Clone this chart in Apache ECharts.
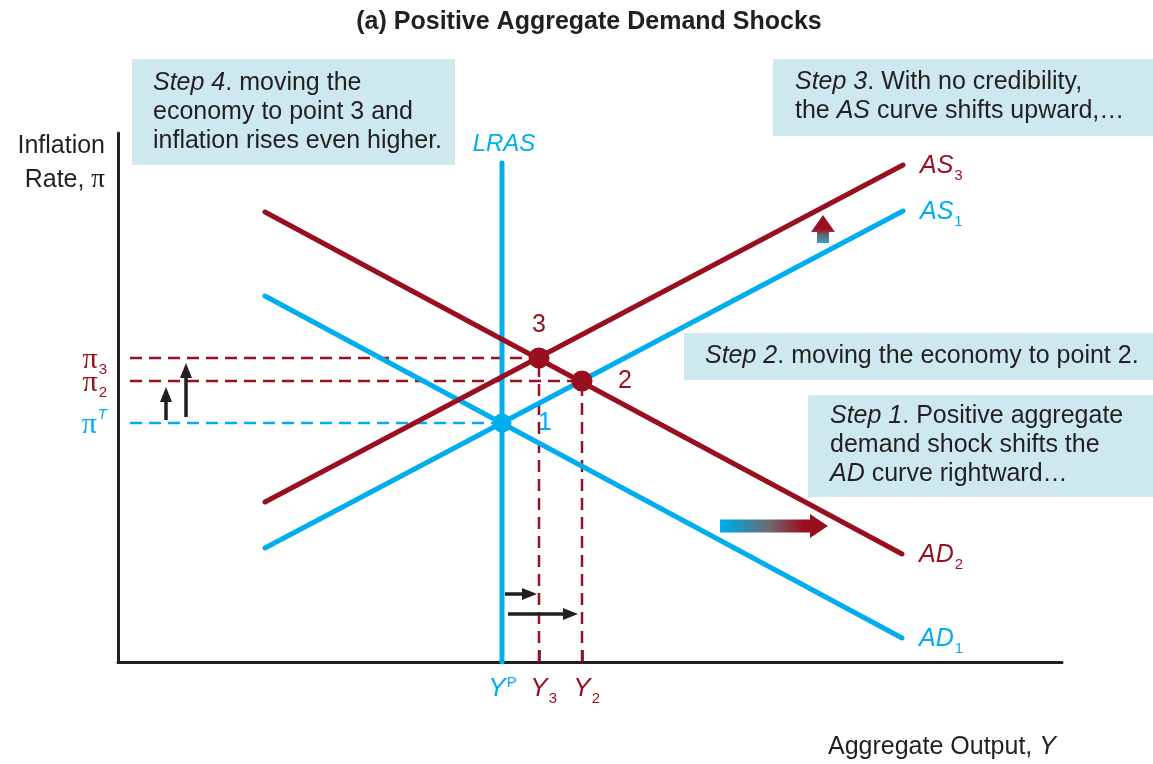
<!doctype html>
<html lang="en">
<head>
<meta charset="UTF-8">
<title>Positive Aggregate Demand Shocks</title>
<script src="https://cdn.jsdelivr.net/npm/echarts@6/dist/echarts.min.js"></script>
<style>
    html, body { margin: 0; padding: 0; background: #fff; }
    #main { width: 1153px; height: 764px; }
</style>
</head>
<body>
<div id="main"></div>
<script>
// axis units: output 0..944, inflation 0..529
var outputMax = 944;
var inflationMax = 529;

// curves: [start, end]
var ad1 = [[147, 366], [784, 24]];
var ad2 = [[147, 450], [784, 108]];
var as1 = [[147, 114], [785, 451]];
var as3 = [[147, 160], [785, 497]];
var lras = [[384, 0], [384, 499]];

// equilibrium points [output, inflation]
var point1 = [384, 239];
var point2 = [464, 281];
var point3 = [421, 304];

var guideStart = 12;          // dashed guides start here on the output scale
var outputTicks = [421, 464]; // Y3, Y2

// tick labels
var outputLabels = [[384, 'Y', 'P', 'sup', 'blue'], [421, 'Y', '3', 'sub', 'red'], [464, 'Y', '2', 'sub', 'red']];
var inflationLabels = [[304, 'π', '3', 'sub', 'red'], [281, 'π', '2', 'sub', 'red'], [239, 'π', 'T', 'sup', 'blue']];

// curve names, anchored at the curve ends
var curveLabels = [[as3[1], 'AS', '3', 'red'], [as1[1], 'AS', '1', 'blue'], [ad2[1], 'AD', '2', 'red'], [ad1[1], 'AD', '1', 'blue']];
var pointLabels = [[point1, '1', 'blue'], [point2, '2', 'red'], [point3, '3', 'red']];

// arrows [x0, y0, x1, y1]
var smallArrows = [[48, 242, 48, 275], [68, 245, 68, 299], [387, 68, 419, 68], [390, 48, 460, 48]];
var shiftArrows = [[602, 136, 710, 136], [705, 419, 705, 447]];

var blue = '#00aeef', red = '#9a0f1f', ink = '#231f20', boxFill = '#cde9ef';
var colors = { blue: blue, red: red };
var sans = '"Liberation Sans", Arial, Helvetica, sans-serif';
var serif = '"Liberation Serif", "Times New Roman", serif';

var measure = document.createElement('canvas').getContext('2d');
function textW(s, font) { measure.font = font; return measure.measureText(s).width; }

// main text plus a sub/superscript, as two text elements
function scripted(x, y, main, small, kind, color, o) {
    var mainFont = (o.italic ? 'italic ' : '') + o.size + 'px ' + (o.serif ? serif : sans);
    var smallFont = (o.smallItalic ? 'italic ' : '') + o.smallSize + 'px ' + sans;
    var mw = textW(main, mainFont), sw = small ? textW(small, smallFont) : 0;
    var left;
    if (o.align === 'left') left = x;
    else if (o.align === 'right') left = x - mw - sw - 1;
    else if (o.align === 'all') left = x - (mw + sw) / 2;
    else left = x - mw / 2;
    var els = [{ type: 'text', style: { x: left, y: y, text: main, font: mainFont, fill: color, align: 'left', verticalAlign: 'middle' } }];
    if (small) {
        els.push({ type: 'text', style: {
            x: left + mw + 1, y: y + (kind === 'sub' ? o.subDy : -o.supDy),
            text: small, font: smallFont, fill: color, align: 'left', verticalAlign: 'middle' } });
    }
    return els;
}

function arrowShape(p0, p1, shaftW, headW, headL) {
    var dx = p1[0] - p0[0], dy = p1[1] - p0[1], len = Math.sqrt(dx * dx + dy * dy);
    var ux = dx / len, uy = dy / len, nx = -uy, ny = ux;
    var bx = p1[0] - ux * headL, by = p1[1] - uy * headL;
    var s = shaftW / 2, h = headW / 2;
    return [[p0[0] + nx * s, p0[1] + ny * s], [bx + nx * s, by + ny * s], [bx + nx * h, by + ny * h],
        [p1[0], p1[1]], [bx - nx * h, by - ny * h], [bx - nx * s, by - ny * s], [p0[0] - nx * s, p0[1] - ny * s]];
}

function solid(name, data, color, z) {
    return { name: name, type: 'line', data: data, showSymbol: false, z: z,
        lineStyle: { color: color, width: 5, cap: 'round' } };
}
function dashed(data, color) {
    return { type: 'line', data: data, showSymbol: false, z: 1,
        lineStyle: { color: color, width: 2.5, type: [12, 7] } };
}

var chart = echarts.init(document.getElementById('main'));
var option = {
    animation: false,
    grid: { left: 118, right: 91, top: 133, bottom: 102 },
    xAxis: {
        type: 'value', min: 0, max: outputMax,
        axisLine: { lineStyle: { color: ink, width: 3 } },
        axisTick: { show: true, inside: true, length: 12, customValues: outputTicks, lineStyle: { color: ink, width: 2.5 } },
        axisLabel: { show: false }, splitLine: { show: false }
    },
    yAxis: {
        type: 'value', min: 0, max: inflationMax,
        axisLine: { show: true, lineStyle: { color: ink, width: 3 } },
        axisTick: { show: false }, axisLabel: { show: false }, splitLine: { show: false }
    },
    graphic: [
        { type: 'text', x: 589, y: 22, style: { text: '(a) Positive Aggregate Demand Shocks', font: 'bold 25px ' + sans, fill: ink, align: 'center', verticalAlign: 'middle' } },
        { type: 'text', x: 105, y: 163, style: { text: 'Inflation\nRate, {p|π}', font: '25px ' + sans, fill: ink, align: 'right', verticalAlign: 'middle', lineHeight: 34,
            rich: { p: { fontFamily: serif, fontSize: 27, lineHeight: 34 } } } },
        { type: 'text', x: 828, y: 747, style: { text: 'Aggregate Output, {i|Y}', font: '25px ' + sans, fill: ink, align: 'left', verticalAlign: 'middle',
            rich: { i: { fontStyle: 'italic', fontSize: 25, fontFamily: sans } } } },
        { type: 'group', children: [
            { type: 'rect', shape: { x: 132, y: 59, width: 323, height: 106 }, style: { fill: boxFill } },
            { type: 'text', x: 153, y: 112, style: { text: '{i|Step 4}. moving the\neconomy to point 3 and\ninflation rises even higher.', font: '25px ' + sans, fill: ink, verticalAlign: 'middle', lineHeight: 29,
                rich: { i: { fontStyle: 'italic', fontSize: 25, fontFamily: sans, lineHeight: 29 } } } }
        ] },
        { type: 'group', children: [
            { type: 'rect', shape: { x: 773, y: 59, width: 380, height: 77 }, style: { fill: boxFill } },
            { type: 'text', x: 795, y: 97, style: { text: '{i|Step 3}. With no credibility,\nthe {i|AS} curve shifts upward,…', font: '25px ' + sans, fill: ink, verticalAlign: 'middle', lineHeight: 29,
                rich: { i: { fontStyle: 'italic', fontSize: 25, fontFamily: sans, lineHeight: 29 } } } }
        ] },
        { type: 'group', children: [
            { type: 'rect', shape: { x: 684, y: 333, width: 469, height: 47 }, style: { fill: boxFill } },
            { type: 'text', x: 705, y: 356, style: { text: '{i|Step 2}. moving the economy to point 2.', font: '25px ' + sans, fill: ink, verticalAlign: 'middle', lineHeight: 29,
                rich: { i: { fontStyle: 'italic', fontSize: 25, fontFamily: sans, lineHeight: 29 } } } }
        ] },
        { type: 'group', children: [
            { type: 'rect', shape: { x: 808, y: 395, width: 345, height: 102 }, style: { fill: boxFill } },
            { type: 'text', x: 830, y: 445, style: { text: '{i|Step 1}. Positive aggregate\ndemand shock shifts the\n{i|AD} curve rightward…', font: '25px ' + sans, fill: ink, verticalAlign: 'middle', lineHeight: 29,
                rich: { i: { fontStyle: 'italic', fontSize: 25, fontFamily: sans, lineHeight: 29 } } } }
        ] }
    ],
    series: [
        dashed([[guideStart, point1[1]], point1], blue),
        dashed([[guideStart, point2[1]], point2], red),
        dashed([[guideStart, point3[1]], point3], red),
        dashed([[point3[0], 0], point3], red),
        dashed([[point2[0], 0], point2], red),
        solid('AD1', ad1, blue, 2),
        solid('AS1', as1, blue, 2),
        solid('LRAS', lras, blue, 2),
        solid('AD2', ad2, red, 3),
        solid('AS3', as3, red, 3),
        { type: 'scatter', data: [point1], symbolSize: 19, z: 4, itemStyle: { color: blue, opacity: 1 } },
        { type: 'scatter', data: [point2, point3], symbolSize: 21, z: 4, itemStyle: { color: red, opacity: 1 } },
        {
            type: 'custom', z: 5, data: smallArrows, encode: { x: [0, 2], y: [1, 3] },
            renderItem: function (params, api) {
                var p0 = api.coord([api.value(0), api.value(1)]);
                var p1 = api.coord([api.value(2), api.value(3)]);
                return { type: 'polygon', shape: { points: arrowShape(p0, p1, 3.5, 12, 15) }, style: { fill: ink } };
            }
        },
        {
            type: 'custom', z: 5, data: shiftArrows, encode: { x: [0, 2], y: [1, 3] },
            renderItem: function (params, api) {
                var p0 = api.coord([api.value(0), api.value(1)]);
                var p1 = api.coord([api.value(2), api.value(3)]);
                var horiz = Math.abs(p1[0] - p0[0]) > Math.abs(p1[1] - p0[1]);
                var fill = horiz
                    ? new echarts.graphic.LinearGradient(0, 0, 1, 0, [{ offset: 0, color: blue }, { offset: 0.12, color: '#0b9fcf' }, { offset: 0.45, color: '#6d6a72' }, { offset: 0.78, color: red }, { offset: 1, color: red }])
                    : new echarts.graphic.LinearGradient(0, 1, 0, 0, [{ offset: 0, color: '#2aa6c8' }, { offset: 0.3, color: '#6a5f68' }, { offset: 0.5, color: red }, { offset: 1, color: red }]);
                var shape = horiz ? arrowShape(p0, p1, 13, 24, 18) : arrowShape(p0, p1, 12, 24, 17);
                return { type: 'polygon', shape: { points: shape }, style: { fill: fill } };
            }
        },
        {
            // output tick labels
            type: 'custom', z: 5, data: outputLabels.map(function (d) { return [d[0], 0]; }),
            renderItem: function (params, api) {
                var d = outputLabels[params.dataIndex];
                var p = api.coord([d[0], 0]);
                return { type: 'group', children: scripted(p[0], p[1] + 27, d[1], d[2], d[3], colors[d[4]],
                    { size: 26, italic: true, smallSize: 15, subDy: 10, supDy: 6, align: d[3] === 'sup' ? 'all' : 'center' }) };
            }
        },
        {
            // inflation tick labels
            type: 'custom', z: 5, data: inflationLabels.map(function (d) { return [0, d[0]]; }),
            renderItem: function (params, api) {
                var d = inflationLabels[params.dataIndex];
                var p = api.coord([0, d[0]]);
                return { type: 'group', children: scripted(p[0] - 11, p[1] + 2, d[1], d[2], d[3], colors[d[4]],
                    { size: 30, serif: true, smallSize: 15, smallItalic: d[3] === 'sup', subDy: 10, supDy: 10, align: 'right' }) };
            }
        },
        {
            // curve names
            type: 'custom', z: 5, data: curveLabels.map(function (d) { return d[0]; }),
            renderItem: function (params, api) {
                var d = curveLabels[params.dataIndex];
                var p = api.coord(d[0]);
                return { type: 'group', children: scripted(p[0] + 17, p[1] + 1, d[1], d[2], 'sub', colors[d[3]],
                    { size: 25, italic: true, smallSize: 15, subDy: 10, align: 'left' }) };
            }
        },
        {
            // LRAS name and point numbers
            type: 'custom', z: 5, data: [lras[1]].concat(pointLabels.map(function (d) { return d[0]; })),
            renderItem: function (params, api) {
                var i = params.dataIndex;
                if (i === 0) {
                    var t = api.coord(lras[1]);
                    return { type: 'text', style: { x: t[0] + 2, y: t[1] - 19, text: 'LRAS', font: 'italic 24px ' + sans, fill: blue, align: 'center', verticalAlign: 'middle' } };
                }
                var d = pointLabels[i - 1];
                var p = api.coord(d[0]);
                var x = d[1] === '3' ? p[0] : p[0] + 43;
                var y = d[1] === '3' ? p[1] - 33 : p[1];
                return { type: 'text', style: { x: x, y: y, text: d[1], font: '25px ' + sans, fill: colors[d[2]], align: 'center', verticalAlign: 'middle' } };
            }
        }
    ]
};
chart.setOption(option);
</script>
</body>
</html>
